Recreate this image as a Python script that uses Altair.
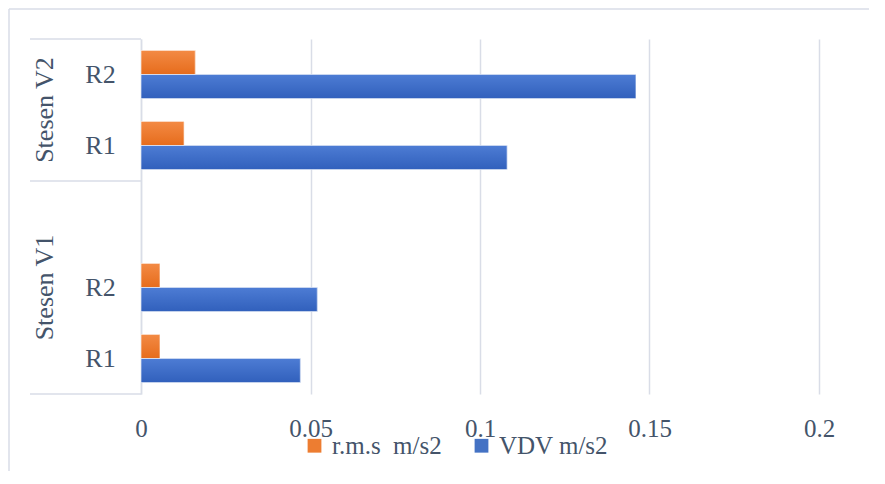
import altair as alt
import pandas as pd

# ---- data ----
stations = ["Stesen V2", "Stesen V2", "Stesen V1", "Stesen V1"]
runs = ["R2", "R1", "R2", "R1"]
rms_values = [0.016, 0.0127, 0.0056, 0.0056]
vdv_values = [0.146, 0.108, 0.052, 0.047]
series_names = ["r.m.s\u00a0 m/s2", "VDV m/s2"]
series_colors = ["#ED7D31", "#4472C4"]
series_gradients = [("#F38A44", "#E66C1C"), ("#4D7CD4", "#3160BC")]
# category order top to bottom (Stesen V1 has an empty slot, as in the original)
y_keys = ["Stesen V2|R2", "Stesen V2|R1", "Stesen V1|", "Stesen V1|R2", "Stesen V1|R1"]
group_labels = ["Stesen V2", "Stesen V1"]
x_ticks = [0, 0.05, 0.1, 0.15, 0.2]

rows = []
for st, r, a, b in zip(stations, runs, rms_values, vdv_values):
    rows.append({"key": f"{st}|{r}", "series": series_names[0], "value": a})
    rows.append({"key": f"{st}|{r}", "series": series_names[1], "value": b})
df = pd.DataFrame(rows)

W, H = 678, 355
TEXT = "#44546A"
GRID = "#D9DDE7"
FONT = "Liberation Serif"

yscale = alt.Scale(domain=y_keys, paddingInner=0, paddingOuter=0)
offscale = alt.Scale(domain=series_names, paddingInner=0, paddingOuter=0.479)

y_axis = alt.Axis(
    title=None, labelExpr="split(datum.value, '|')[1]", ticks=False, tickSize=0,
    labelPadding=41, labelAlign="center", labelBaseline="middle",
    labelFontSize=26, labelFont=FONT, labelColor=TEXT,
    domainColor=GRID, domainWidth=1.5, grid=False,
)

x_enc = alt.X(
    "value:Q",
    scale=alt.Scale(domain=[0, 0.2], nice=False, zero=True),
    axis=alt.Axis(
        title=None, values=x_ticks, format=".2~f", domain=False, ticks=False,
        grid=True, gridColor=GRID, gridWidth=1.5, labelFontSize=25, labelFont=FONT,
        labelColor=TEXT, labelPadding=22, labelFlush=False,
    ),
)
y_enc = alt.Y("key:N", scale=yscale, axis=y_axis)
yoff = alt.YOffset("series:N", scale=offscale)

bars = alt.Chart(df).mark_bar().encode(
    x=x_enc,
    y=y_enc,
    yOffset=yoff,
    color=alt.Color(
        "series:N",
        scale=alt.Scale(domain=series_names, range=series_colors),
        legend=alt.Legend(
            title=None, orient="none", legendX=161, legendY=394, direction="horizontal",
            symbolType="square", symbolSize=190, symbolStrokeWidth=0, symbolOpacity=1,
            labelFontSize=25, labelFont=FONT, labelColor=TEXT, labelOffset=5,
            columnPadding=27, padding=0,
        ),
    ),
)

grad_layers = []
for name, (top, bot) in zip(series_names, series_gradients):
    grad_layers.append(
        alt.Chart(df[df["series"] == name]).mark_bar(
            fill=alt.Gradient(
                gradient="linear",
                stops=[alt.GradientStop(color=top, offset=0), alt.GradientStop(color=bot, offset=1)],
                x1=0, x2=0, y1=0, y2=1,
            ),
            stroke="white", strokeWidth=1, strokeOpacity=0.6,
        ).encode(x=x_enc, y=y_enc, yOffset=yoff)
    )

# group labels of the nested category axis
g2 = alt.Chart(pd.DataFrame({"key": [y_keys[0]], "label": [group_labels[0]]})).mark_text(
    angle=270, fontSize=26, font=FONT, color=TEXT, align="center", baseline="middle"
).encode(y=alt.Y("key:N", scale=yscale, axis=y_axis, bandPosition=1), x=alt.value(-96), text="label:N")
g1 = alt.Chart(pd.DataFrame({"key": [y_keys[3]], "label": [group_labels[1]]})).mark_text(
    angle=270, fontSize=26, font=FONT, color=TEXT, align="center", baseline="middle"
).encode(y=alt.Y("key:N", scale=yscale, axis=y_axis, bandPosition=0.5), x=alt.value(-96), text="label:N")

# separator lines of the nested category axis
def sep(key, bp):
    return alt.Chart(pd.DataFrame({"key": [key]})).mark_rule(color=GRID, strokeWidth=1.5).encode(
        y=alt.Y("key:N", scale=yscale, axis=y_axis, bandPosition=bp),
        x=alt.value(-111), x2=alt.value(0),
    )

seps = [sep(y_keys[0], 0), sep(y_keys[1], 1), sep(y_keys[4], 1)]

# chart-area frame (top and left edges)
one = pd.DataFrame({"a": [0]})
frame_top = alt.Chart(one).mark_rule(color=GRID, strokeWidth=1.5).encode(
    x=alt.value(-132), x2=alt.value(728), y=alt.value(-30)
)
frame_left = alt.Chart(one).mark_rule(color=GRID, strokeWidth=1.5).encode(
    x=alt.value(-132), y=alt.value(-30), y2=alt.value(432)
)

chart = alt.layer(
    bars, *grad_layers, *seps, g2, g1, frame_top, frame_left
).properties(
    width=W, height=H, padding=0, background="white"
).configure_view(stroke=None)

chart.save("out.html", embed_options={"renderer": "svg", "actions": False})
